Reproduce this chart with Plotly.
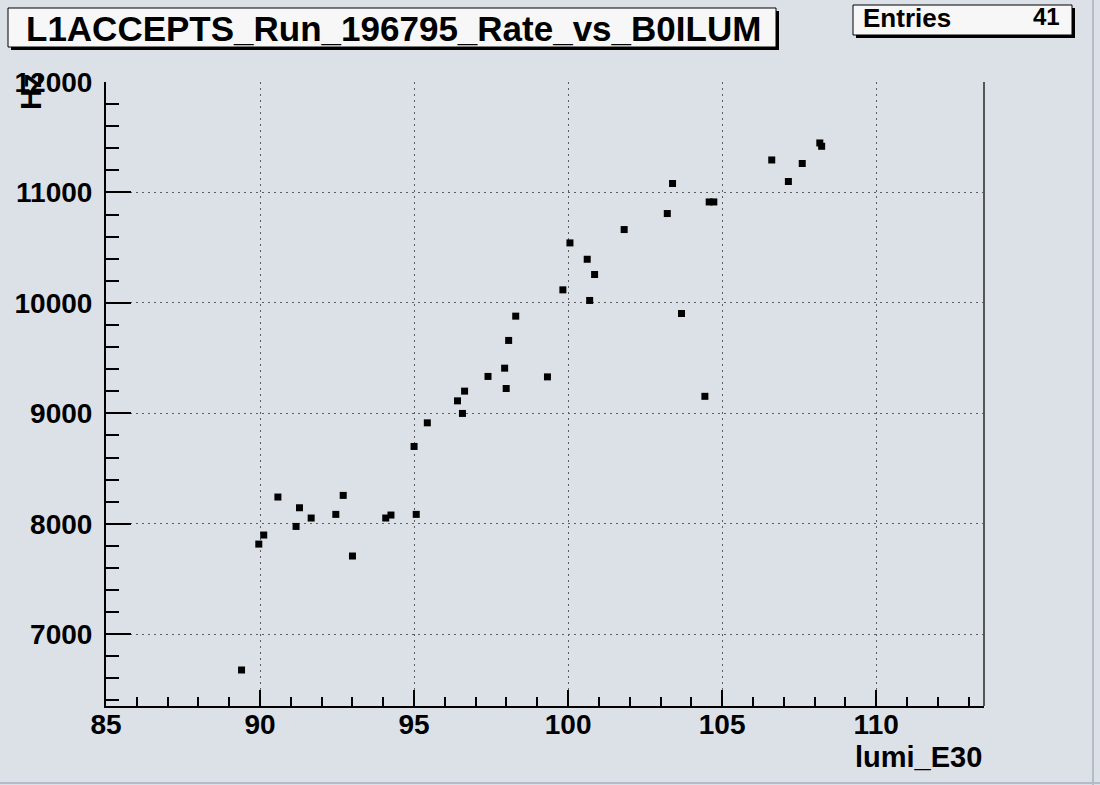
import plotly.graph_objects as go

# Luminosity (E30) and L1 accept rate (Hz) for run 196795
lumi_e30 = [
    89.40, 89.96, 90.12, 90.58, 91.17, 91.28, 91.66, 92.46, 92.70, 93.00,
    94.08, 94.25, 95.07, 95.00, 95.43, 96.41, 96.57, 96.64, 97.40, 97.94,
    97.99, 98.07, 98.30, 99.33, 99.83, 100.70, 100.06, 100.62, 100.86, 101.82,
    103.22, 103.39, 103.68, 104.58, 104.73, 104.44, 106.61, 107.15, 107.60, 108.17,
    108.23,
]
rate_hz = [
    6676, 7816, 7898, 8242, 7976, 8145, 8052, 8085, 8257, 7708,
    8052, 8079, 8085, 8700, 8914, 9113, 8999, 9201, 9334, 9409,
    9225, 9660, 9880, 9330, 10118, 10022, 10543, 10395, 10257, 10664,
    10809, 11081, 9904, 10914, 10914, 9154, 11294, 11099, 11262, 11448,
    11418,
]

title_text = "L1ACCEPTS_Run_196795_Rate_vs_B0ILUM"
x_title = "lumi_E30"
y_title = "Hz"
entries_label = "Entries"

x_range = [85, 113.5]
y_range = [6350, 12000]

W, H = 1100, 785
ML, MR, MT, MB = 106, 116, 82, 79
PW = W - ML - MR
PH = H - MT - MB

BG = "#dce1e7"
FONT = "Liberation Sans, Arial, sans-serif"


def px(x):
    return (x - ML) / PW


def py(y):
    return (H - MB - y) / PH


fig = go.Figure()
fig.add_trace(go.Scatter(
    x=lumi_e30, y=rate_hz, mode="markers",
    marker=dict(symbol="square", size=7, color="black", line=dict(width=0)),
    hoverinfo="x+y", showlegend=False,
))

axis_common = dict(
    showline=True, linecolor="black", linewidth=2,
    ticks="inside", tickcolor="black", tickwidth=1.5,
    showgrid=True, gridcolor="#5e5e5e", gridwidth=1, griddash="2px,4px",
    zeroline=False, tickformat="d",
    tickfont=dict(family=FONT, size=28, color="black", weight="bold"),
)

fig.update_xaxes(
    range=x_range, tick0=85, dtick=5, ticklen=16,
    minor=dict(dtick=1, ticklen=9, ticks="inside", tickcolor="black", tickwidth=1.5, showgrid=False),
    ticklabelstandoff=-8,
    **axis_common,
)
fig.update_yaxes(
    range=y_range, tick0=7000, dtick=1000, ticklen=25,
    minor=dict(dtick=200, ticklen=13, ticks="inside", tickcolor="black", tickwidth=1.5, showgrid=False),
    ticklabelstandoff=6,
    **axis_common,
)

shapes = []
# frame line on the right side of the plot area
shapes.append(dict(type="line", xref="paper", yref="paper", x0=1, x1=1, y0=0, y1=1,
                   line=dict(color="#555555", width=2)))
# canvas bevel at right and bottom
shapes.append(dict(type="line", xref="paper", yref="paper",
                   x0=px(1093), x1=px(1093), y0=py(0), y1=py(785),
                   line=dict(color="#b4bcc8", width=2)))
shapes.append(dict(type="line", xref="paper", yref="paper",
                   x0=px(0), x1=px(1100), y0=py(783), y1=py(783),
                   line=dict(color="#b4bcc8", width=2)))

# title pave with shadow
shapes.append(dict(type="rect", xref="paper", yref="paper",
                   x0=px(11), x1=px(779), y0=py(50), y1=py(11),
                   fillcolor="black", line=dict(width=0), layer="above"))
shapes.append(dict(type="rect", xref="paper", yref="paper",
                   x0=px(8), x1=px(776), y0=py(47), y1=py(8),
                   fillcolor="#f7f7f7", line=dict(color="black", width=1), layer="above"))
# statistics pave with shadow
shapes.append(dict(type="rect", xref="paper", yref="paper",
                   x0=px(856), x1=px(1075), y0=py(38), y1=py(8),
                   fillcolor="black", line=dict(width=0), layer="above"))
shapes.append(dict(type="rect", xref="paper", yref="paper",
                   x0=px(853), x1=px(1072), y0=py(35), y1=py(5),
                   fillcolor="#f7f7f7", line=dict(color="black", width=1), layer="above"))

annotations = [
    dict(text=title_text, xref="paper", yref="paper", x=px(393), y=py(28),
         xanchor="center", yanchor="middle", showarrow=False,
         font=dict(family=FONT, size=35, color="black", weight="bold")),
    dict(text=entries_label, xref="paper", yref="paper", x=px(861), y=py(18),
         xanchor="left", yanchor="middle", showarrow=False,
         font=dict(family=FONT, size=26, color="black", weight="bold")),
    dict(text=str(len(lumi_e30)), xref="paper", yref="paper", x=px(1062), y=py(17),
         xanchor="right", yanchor="middle", showarrow=False,
         font=dict(family=FONT, size=24, color="black", weight="bold")),
    dict(text=x_title, xref="paper", yref="paper", x=px(984), y=py(757),
         xanchor="right", yanchor="middle", showarrow=False,
         font=dict(family=FONT, size=29, color="black", weight="bold")),
    dict(text=y_title, xref="paper", yref="paper", x=px(30), y=py(92),
         xanchor="center", yanchor="middle", showarrow=False, textangle=-90,
         font=dict(family=FONT, size=30, color="black", weight="bold")),
]

fig.update_layout(
    width=W, height=H,
    margin=dict(l=ML, r=MR, t=MT, b=MB, pad=0),
    paper_bgcolor=BG, plot_bgcolor=BG,
    shapes=shapes, annotations=annotations,
    showlegend=False,
)

fig.write_html("out.html")
